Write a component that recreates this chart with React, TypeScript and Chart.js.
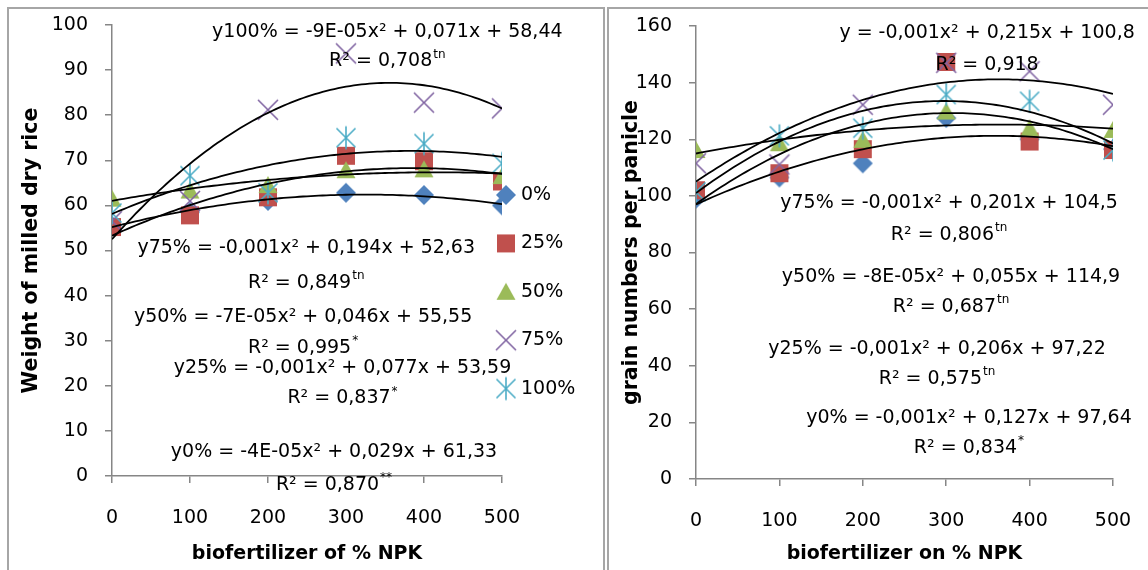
import React, { useEffect, useRef } from "react";
import { Chart, registerables } from "chart.js";
Chart.register(...registerables);

const FONT = "'DejaVu Sans', sans-serif";
const FS = 19;
const TITLE_FS = 20.5;

// ---------- data ----------
const doseNPK = [0, 100, 200, 300, 400, 500];
const seriesLabels = ["0%", "25%", "50%", "75%", "100%"];
const seriesColors = ["#4F81BD", "#C0504D", "#9BBB59", "#8064A2", "#4BACC6"];
const seriesMarkers = ["diamond", "square", "triangle", "x", "asterisk"];

const weight0 = [55.5, 58.5, 61, 62.8, 62.3, 60];
const weight25 = [55.2, 57.8, 61.8, 71, 69.8, 65.3];
const weight50 = [61.5, 63.3, 64.5, 67.8, 68, 66.5];
const weight75 = [56.5, 61, 81.2, 93.7, 82.8, 81.5];
const weight100 = [58.3, 66.6, 62.8, 75, 73.7, 69.3];

const grain0 = [99, 106.5, 111.5, 127.5, 120, 116.5];
const grain25 = [102, 108, 116.5, 147.3, 119.2, 116.2];
const grain50 = [116.2, 118.6, 119.8, 129.8, 123.9, 123.3];
const grain75 = [111.5, 111.1, 132.2, 147, 144, 132.2];
const grain100 = [101.4, 121.2, 123.9, 135.8, 133.4, 116.2];

const weightEqText = [
  "y100% = -9E-05x² + 0,071x + 58,44",
  "y75% = -0,001x² + 0,194x + 52,63",
  "y50% = -7E-05x² + 0,046x + 55,55",
  "y25% = -0,001x² + 0,077x + 53,59",
  "y0% = -4E-05x² + 0,029x + 61,33",
];
const weightR2Text = ["R² = 0,708", "R² = 0,849", "R² = 0,995", "R² = 0,837", "R² = 0,870"];
const weightR2Sig = ["tn", "tn", "*", "*", "**"];

const grainEqText = [
  "y = -0,001x² + 0,215x + 100,8",
  "y75% = -0,001x² + 0,201x + 104,5",
  "y50% = -8E-05x² + 0,055x + 114,9",
  "y25% = -0,001x² + 0,206x + 97,22",
  "y0% = -0,001x² + 0,127x + 97,64",
];
const grainR2Text = ["R² = 0,918", "R² = 0,806", "R² = 0,687", "R² = 0,575", "R² = 0,834"];
const grainR2Sig = ["", "tn", "tn", "tn", "*"];

// label anchors (data units)
const weightLabelX = [353, 249, 245, 295.5, 284.6];
const weightEqY = [98.5, 50.5, 35.3, 23.9, 5.2];
const weightR2Y = [91.9, 42.8, 28.3, 17.2, -2.0];
const grainLabelX = [349, 303.4, 305.8, 289, 327.3];
const grainEqY = [157.4, 97.5, 71.4, 45.9, 21.5];
const grainR2Y = [146.1, 86.2, 60.8, 35.2, 11.0];

// ---------- helpers ----------
function quadFit(xs: number[], ys: number[]) {
  let s0 = 0, s1 = 0, s2 = 0, s3 = 0, s4 = 0, t0 = 0, t1 = 0, t2 = 0;
  xs.forEach((xv, i) => {
    const u = xv / 100, y = ys[i];
    s0 += 1; s1 += u; s2 += u * u; s3 += u * u * u; s4 += u * u * u * u;
    t0 += y; t1 += u * y; t2 += u * u * y;
  });
  const det = (m: number[][]) =>
    m[0][0] * (m[1][1] * m[2][2] - m[1][2] * m[2][1]) -
    m[0][1] * (m[1][0] * m[2][2] - m[1][2] * m[2][0]) +
    m[0][2] * (m[1][0] * m[2][1] - m[1][1] * m[2][0]);
  const A = [[s0, s1, s2], [s1, s2, s3], [s2, s3, s4]];
  const r = [t0, t1, t2];
  const D = det(A);
  const col = (k: number) => A.map((row, i) => row.map((v, j) => (j === k ? r[i] : v)));
  return [det(col(0)) / D, det(col(1)) / D, det(col(2)) / D];
}

function trendPoints(ys: number[]) {
  const [a, b, c] = quadFit(doseNPK, ys);
  const pts: { x: number; y: number }[] = [];
  const lo = doseNPK[0], hi = doseNPK[doseNPK.length - 1];
  for (let xv = lo; xv <= hi; xv += 5) {
    const u = xv / 100;
    pts.push({ x: xv, y: a + b * u + c * u * u });
  }
  return pts;
}

function makeMarker(kind: string, color: string) {
  const c = document.createElement("canvas");
  const S = 26;
  c.width = S; c.height = S;
  const g = c.getContext("2d")!;
  const m = S / 2;
  g.fillStyle = color; g.strokeStyle = color; g.lineWidth = 1.6;
  g.beginPath();
  if (kind === "diamond") {
    g.moveTo(m, m - 10); g.lineTo(m + 10, m); g.lineTo(m, m + 10); g.lineTo(m - 10, m); g.closePath(); g.fill();
  } else if (kind === "square") {
    g.fillRect(m - 9, m - 9, 18, 18);
  } else if (kind === "triangle") {
    g.moveTo(m, m - 9); g.lineTo(m + 9.5, m + 8); g.lineTo(m - 9.5, m + 8); g.closePath(); g.fill();
  } else if (kind === "x") {
    g.moveTo(m - 10, m - 10); g.lineTo(m + 10, m + 10);
    g.moveTo(m + 10, m - 10); g.lineTo(m - 10, m + 10); g.stroke();
  } else {
    g.moveTo(m - 9.5, m - 9.5); g.lineTo(m + 9.5, m + 9.5);
    g.moveTo(m + 9.5, m - 9.5); g.lineTo(m - 9.5, m + 9.5);
    g.moveTo(m, m - 11.5); g.lineTo(m, m + 11.5); g.stroke();
  }
  return c;
}

function drawRun(ctx: CanvasRenderingContext2D, main: string, sup: string, cx: number, cy: number) {
  ctx.font = `${FS}px ${FONT}`;
  const w1 = ctx.measureText(main).width;
  ctx.font = `${Math.round(FS * 0.62)}px ${FONT}`;
  const w2 = sup ? ctx.measureText(sup).width + 1 : 0;
  const start = cx - (w1 + w2) / 2;
  ctx.font = `${FS}px ${FONT}`;
  ctx.fillText(main, start, cy);
  if (sup) {
    ctx.font = `${Math.round(FS * 0.62)}px ${FONT}`;
    ctx.fillText(sup, start + w1 + 1, cy - 7);
  }
}

type PanelSpec = {
  series: number[][];
  yMax: number;
  yStep: number;
  xTitle: string;
  yTitle: string;
  padTop: number;
  padRight: number;
  yWidth: number;
  xHeight: number;
  eqText: string[];
  r2Text: string[];
  r2Sig: string[];
  labelX: number[];
  eqY: number[];
  r2Y: number[];
  legend: boolean;
};

function buildConfig(spec: PanelSpec, markers: HTMLCanvasElement[]): any {
  const pointSets = spec.series.map((ys, i) => ({
    label: seriesLabels[i],
    data: doseNPK.map((xv, j) => ({ x: xv, y: ys[j] })),
    pointStyle: markers[i],
    pointRadius: 10,
    showLine: false,
    order: 5 - i,
  }));
  const trendSets = spec.series.map((ys, i) => ({
    label: "trend " + seriesLabels[i],
    data: trendPoints(ys),
    showLine: true,
    pointRadius: 0,
    borderColor: "#000",
    borderWidth: 1.8,
    fill: false,
    order: 0,
  }));

  const labelPlugin = {
    id: "eqLabels",
    afterDatasetsDraw(chart: any) {
      const { ctx, scales } = chart;
      ctx.save();
      ctx.fillStyle = "#000";
      ctx.textBaseline = "middle";
      ctx.textAlign = "left";
      spec.eqText.forEach((t, i) => {
        const cx = scales.x.getPixelForValue(spec.labelX[i]);
        drawRun(ctx, t, "", cx, scales.y.getPixelForValue(spec.eqY[i]));
        drawRun(ctx, spec.r2Text[i], spec.r2Sig[i], cx, scales.y.getPixelForValue(spec.r2Y[i]));
      });
      ctx.restore();
    },
  };

  const legendPlugin = {
    id: "sideLegend",
    afterDraw(chart: any) {
      if (!spec.legend) return;
      const { ctx, chartArea } = chart;
      ctx.save();
      ctx.fillStyle = "#000";
      ctx.textBaseline = "middle";
      ctx.textAlign = "left";
      ctx.font = `${FS}px ${FONT}`;
      seriesLabels.forEach((lab, i) => {
        const mx = chartArea.right + 4;
        const my = chartArea.top + 170 + i * 48.4;
        const mk = markers[i];
        ctx.drawImage(mk, mx - mk.width / 2, my - mk.height / 2);
        ctx.fillText(lab, mx + 15, my);
      });
      ctx.restore();
    },
  };

  const axisColor = "#868686";
  return {
    type: "scatter",
    data: { datasets: [...pointSets, ...trendSets] },
    options: {
      responsive: false,
      animation: false,
      events: [],
      layout: { padding: { top: spec.padTop, right: spec.padRight, left: 0, bottom: 0 } },
      plugins: { legend: { display: false }, tooltip: { enabled: false } },
      scales: {
        x: {
          type: "linear",
          min: 0,
          max: 500,
          ticks: { stepSize: 100, padding: 24, color: "#000", font: { family: FONT, size: FS } },
          grid: { drawOnChartArea: false, drawTicks: true, tickLength: 7, color: axisColor, lineWidth: 1.5 },
          border: { color: axisColor, width: 1.5 },
          title: {
            display: true,
            text: spec.xTitle,
            color: "#000",
            font: { family: FONT, size: FS, weight: "bold" },
            padding: { top: 0, bottom: 5 },
          },
          afterFit: (s: any) => {
            s.height = spec.xHeight;
            s.paddingLeft = 0;
            s.paddingRight = 0;
          },
        },
        y: {
          min: 0,
          max: spec.yMax,
          ticks: { stepSize: spec.yStep, padding: 17, color: "#000", font: { family: FONT, size: FS } },
          grid: { drawOnChartArea: false, drawTicks: true, tickLength: 7, color: axisColor, lineWidth: 1.5 },
          border: { color: axisColor, width: 1.5 },
          title: {
            display: true,
            text: spec.yTitle,
            color: "#000",
            font: { family: FONT, size: TITLE_FS, weight: "bold" },
            padding: { top: 10, bottom: 0 },
          },
          afterFit: (s: any) => {
            s.width = spec.yWidth;
            s.paddingTop = 0;
            s.paddingBottom = 0;
          },
        },
      },
    },
    plugins: [labelPlugin, legendPlugin],
  };
}

export default function App() {
  const leftRef = useRef<HTMLCanvasElement>(null);
  const rightRef = useRef<HTMLCanvasElement>(null);

  useEffect(() => {
    const markers = seriesColors.map((c, i) => makeMarker(seriesMarkers[i], c));
    const left = new Chart(
      leftRef.current!,
      buildConfig(
        {
          series: [weight0, weight25, weight50, weight75, weight100],
          yMax: 100,
          yStep: 10,
          xTitle: "biofertilizer of % NPK",
          yTitle: "Weight of milled dry rice",
          padTop: 16,
          padRight: 100,
          yWidth: 103,
          xHeight: 94,
          eqText: weightEqText,
          r2Text: weightR2Text,
          r2Sig: weightR2Sig,
          labelX: weightLabelX,
          eqY: weightEqY,
          r2Y: weightR2Y,
          legend: true,
        },
        markers
      )
    );
    const right = new Chart(
      rightRef.current!,
      buildConfig(
        {
          series: [grain0, grain25, grain50, grain75, grain100],
          yMax: 160,
          yStep: 20,
          xTitle: "biofertilizer on % NPK",
          yTitle: "grain numbers per panicle",
          padTop: 17,
          padRight: 35,
          yWidth: 87,
          xHeight: 91,
          eqText: grainEqText,
          r2Text: grainR2Text,
          r2Sig: grainR2Sig,
          labelX: grainLabelX,
          eqY: grainEqY,
          r2Y: grainR2Y,
          legend: false,
        },
        markers
      )
    );
    return () => {
      left.destroy();
      right.destroy();
    };
  }, []);

  return (
    <div style={{ position: "fixed", left: 0, top: 0, width: 1148, height: 570, overflow: "hidden", background: "#fff" }}>
      <div style={{ position: "absolute", left: 7, top: 7, width: 594, height: 620, border: "2px solid #a6a6a6" }} />
      <div style={{ position: "absolute", left: 607, top: 7, width: 620, height: 620, border: "2px solid #a6a6a6" }} />
      <canvas ref={leftRef} width={593} height={561} style={{ position: "absolute", left: 9, top: 9, width: 593, height: 561 }} />
      <canvas ref={rightRef} width={539} height={561} style={{ position: "absolute", left: 609, top: 9, width: 539, height: 561 }} />
    </div>
  );
}
